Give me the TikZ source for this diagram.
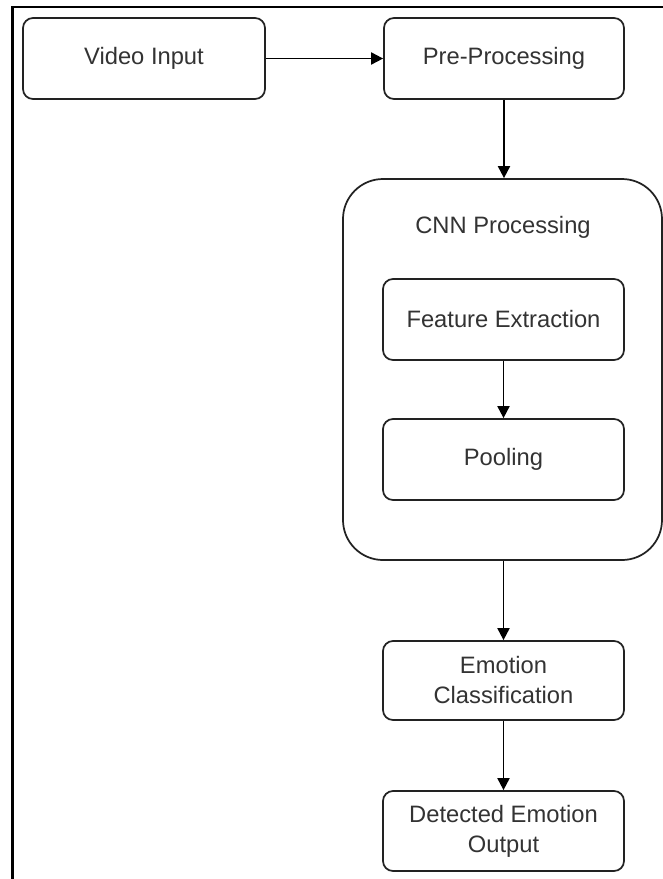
\documentclass[tikz,border=0pt]{standalone}
\usepackage{fontspec}
\setmainfont{Liberation Sans}
\usetikzlibrary{arrows.meta}
\definecolor{txt}{HTML}{333333}
\definecolor{ln}{HTML}{222222}
\tikzset{
  box/.style={draw=ln, line width=1.3pt, rounded corners=7.5pt, fill=white,
    minimum width={241*0.75pt}, minimum height={81*0.75pt}, inner sep=0pt,
    align=center, text=txt, font=\fontsize{17.8pt}{22.5pt}\selectfont},
  group/.style={draw=ln, line width=1.3pt, rounded corners=30pt,
    minimum width={319*0.75pt}, minimum height={381*0.75pt}, inner sep=0pt},
  lbl/.style={text=txt, font=\fontsize{17.8pt}{22.5pt}\selectfont, inner sep=0pt},
  arr/.style={draw=black, line width=1.4pt, -{Triangle[length=9pt,width=9pt]}}
}
\begin{document}
\begin{tikzpicture}[x=0.75pt,y=-0.75pt]
\useasboundingbox (0,0) rectangle (663,879);
\coordinate (bl) at (12.5,879);
\coordinate (tl) at (12.5,6.7);
\coordinate (tr) at (663,6.7);
\draw[line width=1.6pt, black] (bl) -- (tl) -- (tr);

\node[box, minimum width={242*0.75pt}] (vid) at (144,58.5) {Video Input};
\node[box, minimum width={240*0.75pt}] (pre) at (504,58.5) {Pre-Processing};
\node[group] (cnn) at (502.5,369.5) {};
\node[lbl, anchor=base] (cnnl) at (503,233) {CNN Processing};
\node[box] (fe) at (503.5,319.5) {Feature Extraction};
\node[box] (pool) at (503.5,459.5) {Pooling};
\node[box, minimum height={79*0.75pt}] (emo) at (503.5,680.5) {Emotion\\Classification};
\node[box, minimum height={80*0.75pt}] (det) at (503.5,831) {Detected Emotion\\Output};

\draw[arr] (vid.east) -- (pre.west);
\draw[arr] (pre.south) -- (pre.south |- cnn.north);
\draw[arr] (fe.south) -- (pool.north);
\draw[arr] (cnn.south -| emo.north) -- (emo.north);
\draw[arr] (emo.south) -- (det.north);
\end{tikzpicture}
\end{document}
